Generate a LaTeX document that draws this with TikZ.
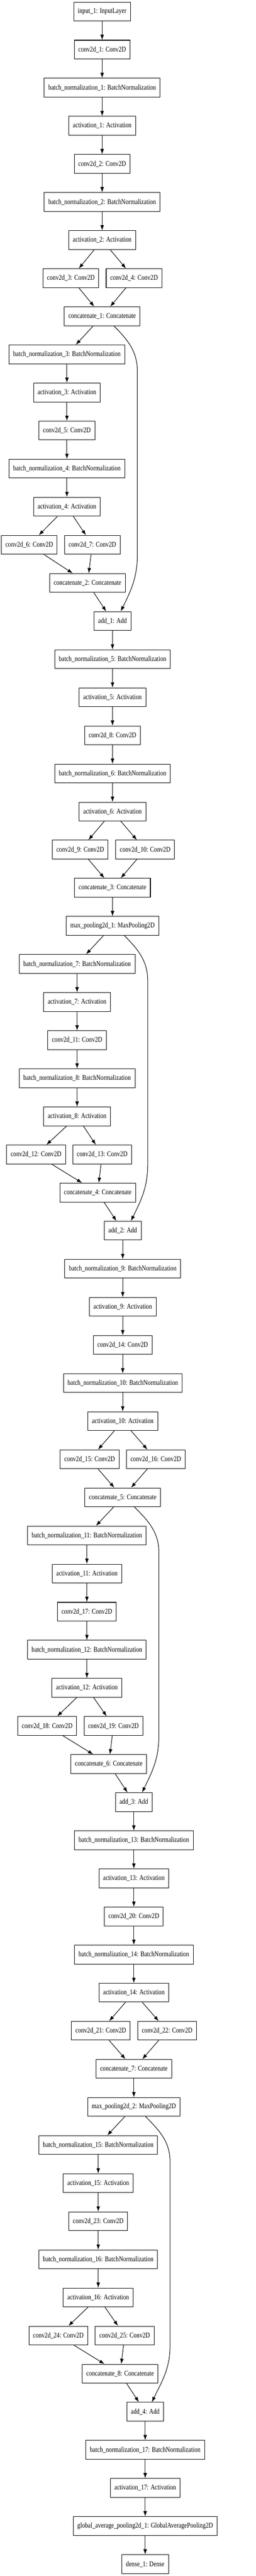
\documentclass[tikz,border=0pt]{standalone}
\usepackage{fontspec}
\newfontfamily\layerfont[FakeStretch=0.82]{Liberation Serif}
\usetikzlibrary{arrows.meta}

\begin{document}
\begin{tikzpicture}[x=0.75pt, y=-73pt,
		layer/.style={draw, line width=1pt, rectangle, minimum height=36pt, inner xsep=7.92pt, inner ysep=0pt, font=\layerfont\fontsize{14pt}{16pt}\selectfont},
		edge/.style={line width=1pt, -{Latex[length=10pt,width=7pt]}}]
		\useasboundingbox (0,-0.30137) rectangle (653,67.31164);
		\fill[white] (0,-0.30137) rectangle (653,67.31164);
		% stem
		\node[layer] (input1) at (261,0) {input\_1: InputLayer};
		\node[layer] (conv1) at (261,1) {conv2d\_1: Conv2D};
		\node[layer] (bn1) at (261,2) {batch\_normalization\_1: BatchNormalization};
		\node[layer] (act1) at (261,3) {activation\_1: Activation};
		\node[layer] (conv2) at (261,4) {conv2d\_2: Conv2D};
		\node[layer] (bn2) at (261,5) {batch\_normalization\_2: BatchNormalization};
		\node[layer] (act2) at (261,6) {activation\_2: Activation};
		\node[layer] (conv3) at (181.2,7) {conv2d\_3: Conv2D};
		\node[layer] (conv4) at (342.5,7) {conv2d\_4: Conv2D};
		\node[layer] (concat1) at (261,8) {concatenate\_1: Concatenate};
		% block 1
		\node[layer] (bn3) at (171,9) {batch\_normalization\_3: BatchNormalization};
		\node[layer] (act3) at (171,10) {activation\_3: Activation};
		\node[layer] (conv5) at (171,11) {conv2d\_5: Conv2D};
		\node[layer] (bn4) at (171,12) {batch\_normalization\_4: BatchNormalization};
		\node[layer] (act4) at (171,13) {activation\_4: Activation};
		\node[layer] (conv6) at (74.7,14) {conv2d\_6: Conv2D};
		\node[layer] (conv7) at (236,14) {conv2d\_7: Conv2D};
		\node[layer] (concat2) at (223.5,15) {concatenate\_2: Concatenate};
		\node[layer] (add1) at (287.5,16) {add\_1: Add};
		\node[layer] (bn5) at (287.5,17) {batch\_normalization\_5: BatchNormalization};
		\node[layer] (act5) at (287.5,18) {activation\_5: Activation};
		\node[layer] (conv8) at (287.5,19) {conv2d\_8: Conv2D};
		\node[layer] (bn6) at (287.5,20) {batch\_normalization\_6: BatchNormalization};
		\node[layer] (act6) at (287.5,21) {activation\_6: Activation};
		\node[layer] (conv9) at (205,22) {conv2d\_9: Conv2D};
		\node[layer] (conv10) at (370.9,22) {conv2d\_10: Conv2D};
		\node[layer] (concat3) at (287.5,23) {concatenate\_3: Concatenate};
		\node[layer] (pool1) at (287.5,24) {max\_pooling2d\_1: MaxPooling2D};
		% block 2
		\node[layer] (bn7) at (197,25) {batch\_normalization\_7: BatchNormalization};
		\node[layer] (act7) at (197,26) {activation\_7: Activation};
		\node[layer] (conv11) at (197,27) {conv2d\_11: Conv2D};
		\node[layer] (bn8) at (197,28) {batch\_normalization\_8: BatchNormalization};
		\node[layer] (act8) at (197,29) {activation\_8: Activation};
		\node[layer] (conv12) at (92,30) {conv2d\_12: Conv2D};
		\node[layer] (conv13) at (261,30) {conv2d\_13: Conv2D};
		\node[layer] (concat4) at (249.6,31) {concatenate\_4: Concatenate};
		\node[layer] (add2) at (313.6,32) {add\_2: Add};
		\node[layer] (bn9) at (313.6,33) {batch\_normalization\_9: BatchNormalization};
		\node[layer] (act9) at (313.6,34) {activation\_9: Activation};
		\node[layer] (conv14) at (313.6,35) {conv2d\_14: Conv2D};
		\node[layer] (bn10) at (313.6,36) {batch\_normalization\_10: BatchNormalization};
		\node[layer] (act10) at (313.6,37) {activation\_10: Activation};
		\node[layer] (conv15) at (229,38) {conv2d\_15: Conv2D};
		\node[layer] (conv16) at (398,38) {conv2d\_16: Conv2D};
		\node[layer] (concat5) at (313.6,39) {concatenate\_5: Concatenate};
		% block 3
		\node[layer] (bn11) at (222,40) {batch\_normalization\_11: BatchNormalization};
		\node[layer] (act11) at (222,41) {activation\_11: Activation};
		\node[layer] (conv17) at (222,42) {conv2d\_17: Conv2D};
		\node[layer] (bn12) at (222,43) {batch\_normalization\_12: BatchNormalization};
		\node[layer] (act12) at (222,44) {activation\_12: Activation};
		\node[layer] (conv18) at (120.5,45) {conv2d\_18: Conv2D};
		\node[layer] (conv19) at (289.8,45) {conv2d\_19: Conv2D};
		\node[layer] (concat6) at (278,46) {concatenate\_6: Concatenate};
		\node[layer] (add3) at (342,47) {add\_3: Add};
		\node[layer] (bn13) at (342,48) {batch\_normalization\_13: BatchNormalization};
		\node[layer] (act13) at (342,49) {activation\_13: Activation};
		\node[layer] (conv20) at (342,50) {conv2d\_20: Conv2D};
		\node[layer] (bn14) at (342,51) {batch\_normalization\_14: BatchNormalization};
		\node[layer] (act14) at (342,52) {activation\_14: Activation};
		\node[layer] (conv21) at (257.6,53) {conv2d\_21: Conv2D};
		\node[layer] (conv22) at (427,53) {conv2d\_22: Conv2D};
		\node[layer] (concat7) at (342,54) {concatenate\_7: Concatenate};
		\node[layer] (pool2) at (342,55) {max\_pooling2d\_2: MaxPooling2D};
		% block 4
		\node[layer] (bn15) at (251,56) {batch\_normalization\_15: BatchNormalization};
		\node[layer] (act15) at (251,57) {activation\_15: Activation};
		\node[layer] (conv23) at (251,58) {conv2d\_23: Conv2D};
		\node[layer] (bn16) at (251,59) {batch\_normalization\_16: BatchNormalization};
		\node[layer] (act16) at (251,60) {activation\_16: Activation};
		\node[layer] (conv24) at (149,61) {conv2d\_24: Conv2D};
		\node[layer] (conv25) at (318.5,61) {conv2d\_25: Conv2D};
		\node[layer] (concat8) at (307,62) {concatenate\_8: Concatenate};
		\node[layer] (add4) at (371,63) {add\_4: Add};
		% head
		\node[layer] (bn17) at (371,64) {batch\_normalization\_17: BatchNormalization};
		\node[layer] (act17) at (371,65) {activation\_17: Activation};
		\node[layer] (gap1) at (371,66) {global\_average\_pooling2d\_1: GlobalAveragePooling2D};
		\node[layer] (dense1) at (371,67) {dense\_1: Dense};
		% skip points
		\coordinate (skipA1) at (351,9.45);
		\coordinate (skipA2) at (351,14.25);
		\coordinate (skipB1) at (377.5,25.45);
		\coordinate (skipB2) at (377.5,30.25);
		\coordinate (skipC1) at (406,40.45);
		\coordinate (skipC2) at (406,45.25);
		\coordinate (skipD1) at (434.6,56.45);
		\coordinate (skipD2) at (434.6,61.25);
		% edges
		\draw[edge] (input1) -- (conv1);
		\draw[edge] (conv1) -- (bn1);
		\draw[edge] (bn1) -- (act1);
		\draw[edge] (act1) -- (conv2);
		\draw[edge] (conv2) -- (bn2);
		\draw[edge] (bn2) -- (act2);
		\draw[edge] (act2) -- (conv3);
		\draw[edge] (act2) -- (conv4);
		\draw[edge] (conv3) -- (concat1);
		\draw[edge] (conv4) -- (concat1);
		\draw[edge] (concat1) -- (bn3);
		\draw[edge] (bn3) -- (act3);
		\draw[edge] (act3) -- (conv5);
		\draw[edge] (conv5) -- (bn4);
		\draw[edge] (bn4) -- (act4);
		\draw[edge] (act4) -- (conv6);
		\draw[edge] (act4) -- (conv7);
		\draw[edge] (conv6) -- (concat2);
		\draw[edge] (conv7) -- (concat2);
		\draw[edge] (concat2) -- (add1);
		\draw[edge] ([xshift=22.5pt]concat1.south) to[out=-45,in=90] (skipA1) -- (skipA2) to[out=-90,in=64] ([xshift=15.75pt]add1.north);
		\draw[edge] (add1) -- (bn5);
		\draw[edge] (bn5) -- (act5);
		\draw[edge] (act5) -- (conv8);
		\draw[edge] (conv8) -- (bn6);
		\draw[edge] (bn6) -- (act6);
		\draw[edge] (act6) -- (conv9);
		\draw[edge] (act6) -- (conv10);
		\draw[edge] (conv9) -- (concat3);
		\draw[edge] (conv10) -- (concat3);
		\draw[edge] (concat3) -- (pool1);
		\draw[edge] (pool1) -- (bn7);
		\draw[edge] (bn7) -- (act7);
		\draw[edge] (act7) -- (conv11);
		\draw[edge] (conv11) -- (bn8);
		\draw[edge] (bn8) -- (act8);
		\draw[edge] (act8) -- (conv12);
		\draw[edge] (act8) -- (conv13);
		\draw[edge] (conv12) -- (concat4);
		\draw[edge] (conv13) -- (concat4);
		\draw[edge] (concat4) -- (add2);
		\draw[edge] ([xshift=22.5pt]pool1.south) to[out=-45,in=90] (skipB1) -- (skipB2) to[out=-90,in=64] ([xshift=15.75pt]add2.north);
		\draw[edge] (add2) -- (bn9);
		\draw[edge] (bn9) -- (act9);
		\draw[edge] (act9) -- (conv14);
		\draw[edge] (conv14) -- (bn10);
		\draw[edge] (bn10) -- (act10);
		\draw[edge] (act10) -- (conv15);
		\draw[edge] (act10) -- (conv16);
		\draw[edge] (conv15) -- (concat5);
		\draw[edge] (conv16) -- (concat5);
		\draw[edge] (concat5) -- (bn11);
		\draw[edge] (bn11) -- (act11);
		\draw[edge] (act11) -- (conv17);
		\draw[edge] (conv17) -- (bn12);
		\draw[edge] (bn12) -- (act12);
		\draw[edge] (act12) -- (conv18);
		\draw[edge] (act12) -- (conv19);
		\draw[edge] (conv18) -- (concat6);
		\draw[edge] (conv19) -- (concat6);
		\draw[edge] (concat6) -- (add3);
		\draw[edge] ([xshift=22.5pt]concat5.south) to[out=-45,in=90] (skipC1) -- (skipC2) to[out=-90,in=64] ([xshift=15.75pt]add3.north);
		\draw[edge] (add3) -- (bn13);
		\draw[edge] (bn13) -- (act13);
		\draw[edge] (act13) -- (conv20);
		\draw[edge] (conv20) -- (bn14);
		\draw[edge] (bn14) -- (act14);
		\draw[edge] (act14) -- (conv21);
		\draw[edge] (act14) -- (conv22);
		\draw[edge] (conv21) -- (concat7);
		\draw[edge] (conv22) -- (concat7);
		\draw[edge] (concat7) -- (pool2);
		\draw[edge] (pool2) -- (bn15);
		\draw[edge] (bn15) -- (act15);
		\draw[edge] (act15) -- (conv23);
		\draw[edge] (conv23) -- (bn16);
		\draw[edge] (bn16) -- (act16);
		\draw[edge] (act16) -- (conv24);
		\draw[edge] (act16) -- (conv25);
		\draw[edge] (conv24) -- (concat8);
		\draw[edge] (conv25) -- (concat8);
		\draw[edge] (concat8) -- (add4);
		\draw[edge] ([xshift=22.5pt]pool2.south) to[out=-45,in=90] (skipD1) -- (skipD2) to[out=-90,in=64] ([xshift=12.75pt]add4.north);
		\draw[edge] (add4) -- (bn17);
		\draw[edge] (bn17) -- (act17);
		\draw[edge] (act17) -- (gap1);
		\draw[edge] (gap1) -- (dense1);
	\end{tikzpicture}
\end{document}
